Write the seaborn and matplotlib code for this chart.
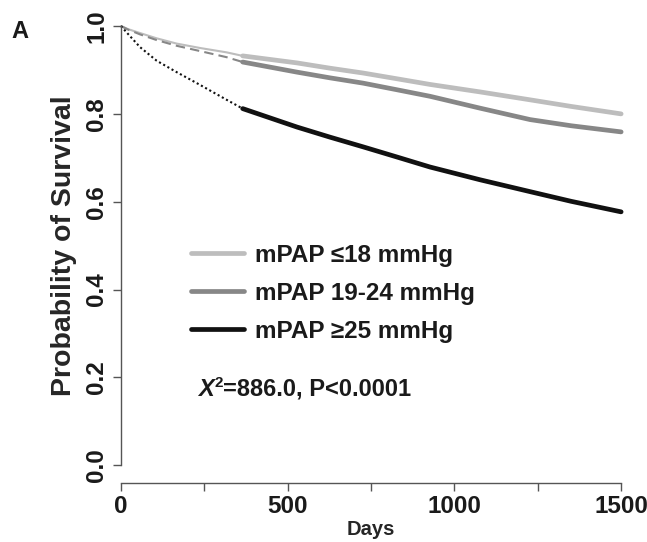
import numpy as np
import pandas as pd
import seaborn as sns
import matplotlib
matplotlib.use("Agg")
import matplotlib.pyplot as plt
from matplotlib.font_manager import FontProperties

# early follow-up (thin / dashed / dotted part)
days_early = [0, 21, 57, 107, 167, 237, 317, 365]
low_early = [1.0, 0.993, 0.984, 0.972, 0.960, 0.950, 0.940, 0.932]
mid_early = [1.0, 0.992, 0.981, 0.968, 0.955, 0.943, 0.929, 0.918]
high_early = [1.0, 0.982, 0.952, 0.921, 0.895, 0.866, 0.832, 0.812]

# later follow-up (thick solid part)
days_late = [365, 528, 627, 726, 827, 927, 1077, 1227, 1350, 1500]
low_late = [0.932, 0.916, 0.904, 0.893, 0.880, 0.867, 0.850, 0.832, 0.817, 0.800]
mid_late = [0.918, 0.895, 0.882, 0.870, 0.855, 0.840, 0.813, 0.787, 0.773, 0.759]
high_late = [0.812, 0.770, 0.747, 0.725, 0.702, 0.679, 0.650, 0.623, 0.601, 0.577]

groups = ["mPAP \u226418 mmHg", "mPAP 19-24 mmHg", "mPAP \u226525 mmHg"]
colors = ["#bdbdbd", "#878787", "#111111"]
early_styles = ["-", (0, (4.5, 2.5)), (0, (1, 1.3))]

sns.set_theme(style="ticks")
plt.rcParams["font.family"] = ["Liberation Sans", "DejaVu Sans"]
plt.rcParams["font.weight"] = "bold"
plt.rcParams["text.color"] = "#1a1a1a"

fig = plt.figure(figsize=(6.47, 5.42), dpi=100)
ax = fig.add_axes([0.187, 0.109, 0.773, 0.843])

early = [low_early, mid_early, high_early]
late = [low_late, mid_late, high_late]
for g, c, ls, ye, yl in zip(groups, colors, early_styles, early, late):
    d1 = pd.DataFrame({"days": days_early, "surv": ye})
    d2 = pd.DataFrame({"days": days_late, "surv": yl})
    sns.lineplot(data=d1, x="days", y="surv", ax=ax, color=c, lw=1.5,
                 linestyle=ls, clip_on=False)
    sns.lineplot(data=d2, x="days", y="surv", ax=ax, color=c, lw=3.4,
                 label=g, clip_on=False, solid_capstyle="round")

ax.set_xlim(0, 1500)
ax.set_ylim(-0.04, 1.0)
sns.despine(ax=ax)
for s in ["left", "bottom"]:
    ax.spines[s].set_color("#555555")
    ax.spines[s].set_linewidth(1.0)
ax.spines["left"].set_bounds(0, 1)
ax.spines["bottom"].set_bounds(0, 1500)

ax.set_xticks([0, 500, 1000, 1500])
ax.set_xticks([250, 750, 1250], minor=True)
ax.set_yticks([0, 0.2, 0.4, 0.6, 0.8, 1.0])
ax.set_yticklabels(["0.0", "0.2", "0.4", "0.6", "0.8", "1.0"],
                   rotation=90, va="center")
ax.tick_params(axis="both", which="both", length=6, width=1.0,
               color="#555555", labelsize=17.5, pad=3, labelcolor="#1a1a1a")
for t in ax.get_xticklabels() + ax.get_yticklabels():
    t.set_fontweight("bold")

ax.set_xlabel("Days", fontsize=14.5, fontweight="bold", labelpad=1)
ax.set_ylabel("Probability of Survival", fontsize=20.5, fontweight="bold",
              labelpad=6)
ax.yaxis.label.set_y(0.52)

ax.legend(loc="upper left", bbox_to_anchor=(0.12, 0.545), frameon=False,
          handlelength=2.2, handletextpad=0.45,
          labelspacing=0.62, borderaxespad=0,
          prop={"weight": "bold", "size": 17.5})

fp_x = FontProperties(family="Liberation Sans", weight="bold",
                      style="italic", size=17)
tx = ax.text(0.155, 0.18, "X", transform=ax.transAxes,
             fontproperties=fp_x, va="bottom")
sup = ax.annotate("2", xy=(1.0, 0.45), xycoords=tx, fontsize=11,
                  fontweight="bold", va="bottom")
ax.annotate("=886.0, P<0.0001", xy=(1, 0), xycoords=tx, xytext=(6.5, 0),
            textcoords="offset points", fontsize=17, fontweight="bold",
            va="bottom")

fig.text(0.018, 0.93, "A", fontsize=17, fontweight="bold")

fig.savefig("out.png", dpi=100)
